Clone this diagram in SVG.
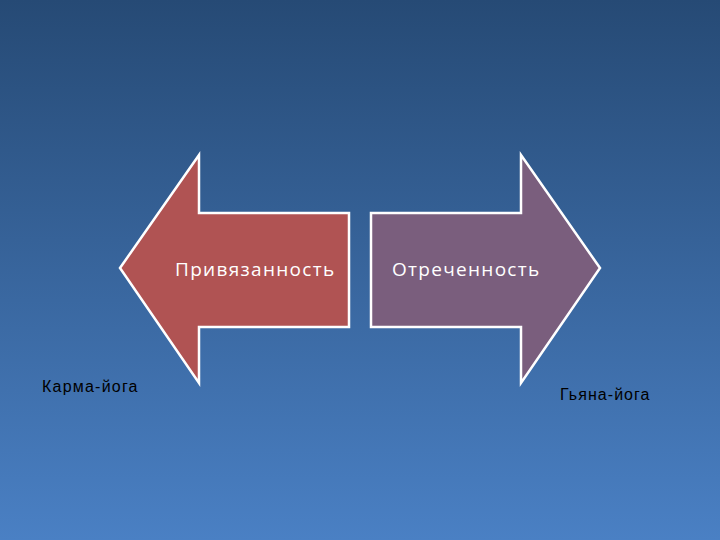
<svg xmlns="http://www.w3.org/2000/svg" width="720" height="540" viewBox="0 0 720 540">
<defs><linearGradient id="bg" x1="0" y1="0" x2="0" y2="1"><stop offset="0" stop-color="#264a75"/><stop offset="1" stop-color="#4a80c4"/></linearGradient>
<style>.ar{stroke:#fff;stroke-width:2.5;stroke-linejoin:miter}.lt{font-family:"Open Sans","Liberation Sans",sans-serif;font-size:19px;fill:#fff;letter-spacing:0.8px}.bl{font-family:"Liberation Sans",sans-serif;font-size:16px;fill:#000;letter-spacing:0.5px}</style></defs>
<rect width="720" height="540" fill="url(#bg)"/>
<g id="left-arrow"><path class="ar" fill="#b05353" d="M120,268 L199,155 L199,213 L349,213 L349,327 L199,327 L199,383 Z"/><text class="lt" x="175" y="276" textLength="160">Привязанность</text></g>
<g id="right-arrow"><path class="ar" fill="#7a5e7d" d="M600,268 L521,155 L521,213 L371,213 L371,327 L521,327 L521,383 Z"/><text class="lt" x="392" y="276" textLength="148">Отреченность</text></g>
<g id="karma"><text class="bl" x="42" y="392" textLength="96">Карма-йога</text></g>
<g id="gyana"><text class="bl" x="560" y="400" textLength="90">Гьяна-йога</text></g>
<g id="connectors"/>
</svg>
